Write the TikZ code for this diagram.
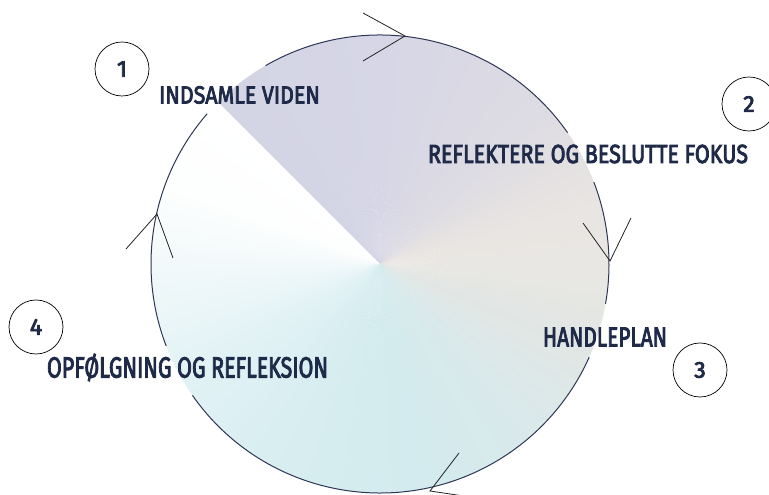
\documentclass[tikz,border=0pt]{standalone}
\usepackage{fontspec}
\setmainfont{Fira Sans}
\newfontfamily\lblfont[FakeBold=3.5]{Fira Sans}
\usepackage{graphicx}
\definecolor{txt}{RGB}{30,42,72}
\definecolor{ol}{RGB}{45,55,85}
\definecolor{chevc}{RGB}{35,35,40}
\definecolor{g0}{HTML}{D3D4E4}
\definecolor{g1}{HTML}{D6D6E6}
\definecolor{g2}{HTML}{DDDBE3}
\definecolor{g3}{HTML}{E9E5E2}
\definecolor{g4}{HTML}{E9E7E3}
\definecolor{g5}{HTML}{E2E6E4}
\definecolor{g6}{HTML}{D9E9EB}
\definecolor{g7}{HTML}{D3EBEE}
\definecolor{g8}{HTML}{D8EEF1}
\definecolor{g9}{HTML}{E2F2F5}
\definecolor{g10}{HTML}{F2F9FA}
\definecolor{g11}{HTML}{FDFEFE}
\definecolor{g12}{HTML}{FFFFFF}
\begin{document}
\begin{tikzpicture}[x=1pt,y=1pt,
  lbl/.style={text=txt, inner sep=0pt, font=\lblfont},
  numcirc/.style={circle, draw=black, line width=0.7pt, minimum size=54pt, inner sep=0pt, text=txt, font=\lblfont\fontsize{23}{23}\selectfont},
  chev/.style={draw=chevc, line width=0.8pt},
  ring/.style={draw=ol, line width=1pt}]
\useasboundingbox (0,0) rectangle (769,495);
\clip (0,0) rectangle (769,495);
\coordinate (C) at (380,231);
% conic shading
\foreach \a/\b/\ca/\cb in {135/90/g0/g1,90/45/g1/g2,45/15/g2/g3,15/0/g3/g4,0/-20/g4/g5,-20/-50/g5/g6,-50/-80/g6/g7,-80/-120/g7/g8,-120/-150/g8/g9,-150/-180/g9/g10,-180/-200/g10/g11,-200/-225/g11/g12}{
  \pgfmathtruncatemacro{\n}{\a-\b}
  \foreach \k in {1,...,\n}{
    \pgfmathsetmacro{\sa}{\a-\k+1}
    \pgfmathsetmacro{\ea}{\a-\k-0.3}
    \pgfmathtruncatemacro{\p}{round(100*(\n-\k+0.5)/\n)}
    \colorlet{tmpc}{\ca!\p!\cb}
    \fill[tmpc] (C) -- ([shift={(\sa:229pt)}]C) arc[start angle=\sa, end angle=\ea, radius=229pt] -- cycle;
  }
}
\fill[g0] (C) -- ([shift={(135:229pt)}]C) arc[start angle=135, end angle=133.8, radius=229pt] -- cycle;
% outline arcs
\draw[ring] ([shift={(139:229pt)}]C) arc[start angle=139, end angle=201, radius=229pt];
\draw[ring] ([shift={(215:229pt)}]C) arc[start angle=215, end angle=336, radius=229pt];
\draw[ring] ([shift={(-10:229pt)}]C) arc[start angle=-10, end angle=21, radius=229pt];
\draw[ring] ([shift={(35:229pt)}]C) arc[start angle=35, end angle=120, radius=229pt];
% chevrons
\coordinate (t1) at (405,459); \coordinate (t1a) at (363,482); \coordinate (t1b) at (363,434);
\coordinate (t2) at (610,234); \coordinate (t2a) at (583,272); \coordinate (t2b) at (631,277);
\coordinate (t3) at (430,4);   \coordinate (t3a) at (459,42);  \coordinate (t3b) at (477,-3);
\coordinate (t4) at (157,281); \coordinate (t4a) at (126,246); \coordinate (t4b) at (173,237);
\draw[chev] (t1a) -- (t1) -- (t1b);
\draw[chev] (t2a) -- (t2) -- (t2b);
\draw[chev] (t3a) -- (t3) -- (t3b);
\draw[chev] (t4a) -- (t4) -- (t4b);
% labels
\node[lbl] (l1) at (239.5,400) {\resizebox{161pt}{17pt}{\smash{INDSAMLE VIDEN}\vphantom{H}}};
\node[lbl] (l2) at (588,341) {\resizebox{320pt}{18pt}{\smash{REFLEKTERE OG BESLUTTE FOKUS}\vphantom{H}}};
\node[lbl] (l3) at (605,158) {\resizebox{124pt}{19pt}{\smash{HANDLEPLAN}\vphantom{H}}};
\node[lbl] (l4) at (187.5,127.5) {\resizebox{281pt}{20pt}{\smash{OPFØLGNING OG REFLEKSION}\vphantom{H}}};
% number circles
\node[numcirc] (n1) at (122,426) {1};
\node[numcirc] (n2) at (749,391) {2};
\node[numcirc] (n3) at (700,125) {3};
\node[numcirc] (n4) at (36,168) {4};
\end{tikzpicture}
\end{document}
